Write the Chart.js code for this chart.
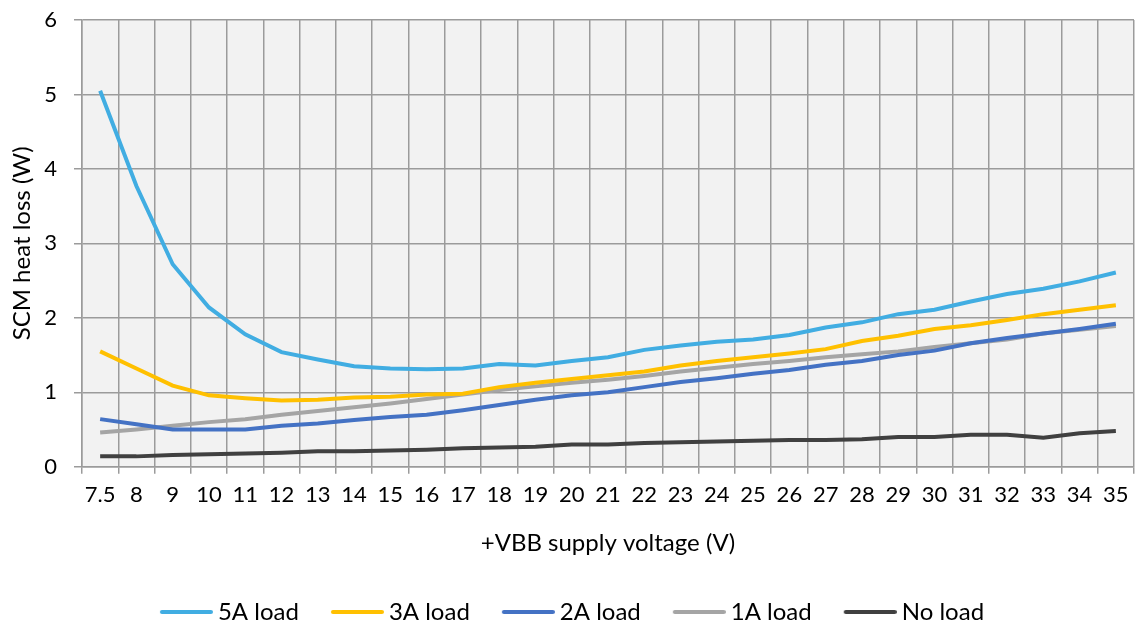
<!DOCTYPE html>
<html lang="en">
<head>
    <meta charset="UTF-8">
    <title>SCM heat loss vs supply voltage</title>
    <script src="https://cdn.jsdelivr.net/npm/chart.js"></script>
    <style>
        html, body { margin: 0; padding: 0; background: #fff; }
        #wrap { width: 1144px; height: 628px; position: relative; }
    </style>
</head>
<body>
    <div id="wrap">
        <canvas id="heatChart"></canvas>
    </div>

    <script>
        // x categories: +VBB supply voltage (V)
        const voltages = ['7.5', '8', '9', '10', '11', '12', '13', '14', '15', '16', '17', '18', '19', '20',
            '21', '22', '23', '24', '25', '26', '27', '28', '29', '30', '31', '32', '33', '34', '35'];

        // SCM heat loss (W)
        const load5A = [5.05, 3.77, 2.72, 2.14, 1.78, 1.54, 1.44, 1.35, 1.32, 1.31, 1.32, 1.38, 1.36, 1.42,
            1.47, 1.57, 1.63, 1.68, 1.71, 1.77, 1.87, 1.94, 2.05, 2.11, 2.22, 2.32, 2.39, 2.49, 2.61];
        const load3A = [1.55, 1.32, 1.09, 0.96, 0.92, 0.89, 0.90, 0.93, 0.94, 0.97, 0.98, 1.07, 1.13, 1.18,
            1.23, 1.28, 1.36, 1.42, 1.47, 1.52, 1.58, 1.69, 1.76, 1.85, 1.90, 1.97, 2.05, 2.11, 2.17];
        const load2A = [0.64, 0.57, 0.50, 0.50, 0.50, 0.55, 0.58, 0.63, 0.67, 0.70, 0.76, 0.83, 0.90, 0.96,
            1.00, 1.07, 1.14, 1.19, 1.25, 1.30, 1.37, 1.42, 1.50, 1.56, 1.66, 1.73, 1.79, 1.85, 1.92];
        const load1A = [0.46, 0.50, 0.55, 0.60, 0.64, 0.70, 0.75, 0.80, 0.85, 0.91, 0.97, 1.03, 1.08, 1.13,
            1.17, 1.22, 1.28, 1.33, 1.38, 1.42, 1.47, 1.51, 1.55, 1.61, 1.66, 1.71, 1.79, 1.84, 1.89];
        const noLoad = [0.14, 0.14, 0.16, 0.17, 0.18, 0.19, 0.21, 0.21, 0.22, 0.23, 0.25, 0.26, 0.27, 0.30,
            0.30, 0.32, 0.33, 0.34, 0.35, 0.36, 0.36, 0.37, 0.40, 0.40, 0.43, 0.43, 0.39, 0.45, 0.48];

        const FONT = 'Lato, "Open Sans", sans-serif';
        const LEG_BOX = 40;   // legend box width chart.js reserves
        const LEG_LINE = 53;  // drawn legend line length

        // grey plot area like the original
        const plotBg = {
            id: 'plotBg',
            beforeDraw(chart) {
                const { ctx, chartArea: a } = chart;
                ctx.save();
                ctx.fillStyle = '#f2f2f2';
                ctx.fillRect(a.left, a.top, a.right - a.left, a.bottom - a.top);
                ctx.restore();
            }
        };

        // legend swatch: line drawn close to the label text
        function swatch(color) {
            const c = document.createElement('canvas');
            c.width = LEG_BOX + 14;
            c.height = 10;
            const g = c.getContext('2d');
            g.strokeStyle = color;
            g.lineWidth = 4;
            g.lineCap = 'round';
            g.beginPath();
            g.moveTo(c.width - LEG_LINE + 2, 5);
            g.lineTo(c.width - 2, 5);
            g.stroke();
            return c;
        }

        function line(label, data, color) {
            return {
                label: label,
                data: data,
                borderColor: color,
                backgroundColor: color,
                borderWidth: 4,
                pointRadius: 0,
                pointHoverRadius: 0,
                pointStyle: swatch(color),
                tension: 0,
                fill: false
            };
        }

        new Chart(document.getElementById('heatChart'), {
            type: 'line',
            data: {
                labels: voltages,
                datasets: [
                    line('5A load', load5A, '#41ade2'),
                    line('3A load', load3A, '#ffc000'),
                    line('2A load', load2A, '#4472c4'),
                    line('1A load', load1A, '#a5a5a5'),
                    line('No load', noLoad, '#404040')
                ]
            },
            options: {
                responsive: true,
                maintainAspectRatio: false,
                animation: false,
                layout: { padding: { top: 0, right: 10, left: 16, bottom: -6 } },
                plugins: {
                    tooltip: { enabled: false },
                    legend: {
                        position: 'bottom',
                        labels: {
                            usePointStyle: true,
                            pointStyleWidth: LEG_BOX,
                            boxHeight: 24,
                            padding: 38,
                            color: '#000',
                            font: { family: FONT, size: 24 }
                        }
                    }
                },
                scales: {
                    x: {
                        offset: true,
                        grid: {
                            offset: true,
                            color: '#9b9b9b',
                            lineWidth: 1.5,
                            tickLength: 7
                        },
                        border: { color: '#9b9b9b', width: 1.5 },
                        ticks: {
                            autoSkip: false,
                            maxRotation: 0,
                            padding: 8,
                            color: '#000',
                            font: { family: FONT, size: 22 }
                        },
                        title: {
                            display: true,
                            text: '+VBB supply voltage (V)',
                            color: '#000',
                            padding: { top: 13, bottom: 4 },
                            font: { family: FONT, size: 24 }
                        }
                    },
                    y: {
                        min: 0,
                        max: 6,
                        afterFit(scale) {
                            scale.width = 66;
                            scale.paddingTop = 20;
                            scale.paddingBottom = 0;
                        },
                        grid: {
                            color: '#9b9b9b',
                            lineWidth: 1.5,
                            tickLength: 8
                        },
                        border: { color: '#9b9b9b', width: 1.5 },
                        ticks: {
                            stepSize: 1,
                            padding: 17,
                            color: '#000',
                            font: { family: FONT, size: 22 }
                        },
                        title: {
                            display: true,
                            text: 'SCM heat loss (W)',
                            color: '#000',
                            padding: { top: -8, bottom: 0 },
                            font: { family: FONT, size: 24 }
                        }
                    }
                }
            },
            plugins: [plotBg]
        });
    </script>
</body>
</html>
